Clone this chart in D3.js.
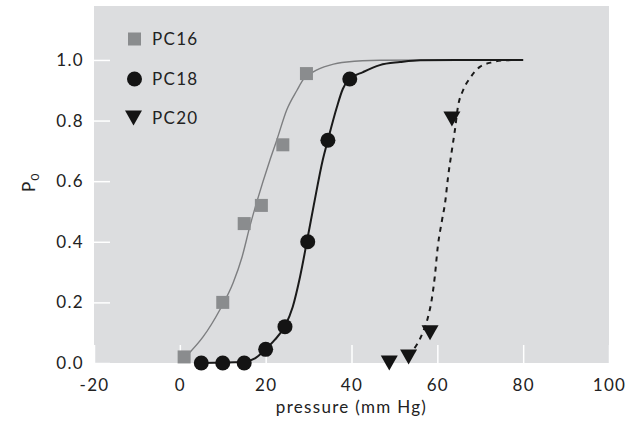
<!DOCTYPE html>
<html>
<head>
<meta charset="utf-8">
<script src="https://cdn.jsdelivr.net/npm/d3@7"></script>
<style>
  html, body { margin: 0; padding: 0; background: #ffffff; }
  svg { display: block; }
  text { font-family: Lato, "Open Sans", sans-serif; fill: #222; letter-spacing: 1.3px; }
</style>
</head>
<body>
<svg id="chart" width="636" height="424"></svg>
<script>
// ---- data ----
const xTicks = [-20, 0, 20, 40, 60, 80, 100];
const yTicks = [0.0, 0.2, 0.4, 0.6, 0.8, 1.0];

const pc16X = [1, 10, 15, 19, 24, 29.5];
const pc16Y = [0.02, 0.20, 0.46, 0.52, 0.72, 0.955];

const pc18X = [5, 10, 15, 20, 24.5, 29.8, 34.5, 39.6];
const pc18Y = [0.0, 0.0, 0.0, 0.045, 0.12, 0.40, 0.735, 0.937];

const pc20X = [48.8, 53.3, 58.3, 63.4];
const pc20Y = [0.0, 0.02, 0.10, 0.805];

// fitted curves
const fit16X = [2, 5.4, 9.3, 12.4, 14.5, 16.3, 17.9, 21.0, 22.6, 24.9, 27.3, 28.7, 31.0, 35.0, 38.9, 46.6, 60, 80];
const fit16Y = [0.03, 0.086, 0.175, 0.264, 0.35, 0.45, 0.53, 0.67, 0.736, 0.835, 0.90, 0.934, 0.96, 0.983, 0.993, 0.999, 1.0, 1.0];

const fit18X = [5, 14.7, 17.5, 19.8, 22.1, 24.5, 26.3, 28.0, 29.6, 31.2, 33.3, 34.5, 36.6, 38.0, 39.6, 42.7, 46.6, 51.3, 56, 80];
const fit18Y = [0.0, 0.003, 0.015, 0.043, 0.076, 0.122, 0.185, 0.284, 0.40, 0.52, 0.67, 0.736, 0.845, 0.905, 0.937, 0.96, 0.983, 0.993, 0.999, 1.0];

const fit20X = [53.1, 55.2, 56.6, 57.8, 58.7, 59.4, 60.1, 61.1, 61.8, 62.5, 63.4, 64.1, 64.8, 66.0, 67.6, 69.9, 73.0, 76.0, 80];
const fit20Y = [0.026, 0.06, 0.10, 0.15, 0.21, 0.284, 0.383, 0.472, 0.528, 0.614, 0.703, 0.769, 0.845, 0.90, 0.94, 0.977, 0.993, 0.999, 1.0];

const seriesNames = ["PC16", "PC18", "PC20"];

// ---- layout ----
const svg = d3.select("#chart");
const plotLeft = 94, plotRight = 609, plotTop = 6, plotBottom = 363;
const fs = 17;

const x = d3.scaleLinear().domain([-20, 100]).range([plotLeft, plotRight]);
const y = d3.scaleLinear().domain([0, 1.178]).range([plotBottom, plotTop]);

svg.append("rect")
  .attr("x", plotLeft).attr("y", plotTop)
  .attr("width", plotRight - plotLeft).attr("height", plotBottom - plotTop)
  .attr("fill", "#dcdddf");

// axes (ticks drawn inside, white)
const yAxis = d3.axisLeft(y).tickValues(yTicks).tickFormat(d3.format(".1f")).tickSize(-16).tickPadding(10);
const gy = svg.append("g").attr("transform", `translate(${plotLeft},0)`).call(yAxis);
gy.select(".domain").remove();
gy.selectAll(".tick line").attr("stroke", "#ffffff").attr("stroke-width", 1.5);
gy.selectAll(".tick text").attr("font-size", fs).attr("fill", "#222")
  .style("font-family", "Lato, sans-serif").style("letter-spacing", "1.3px");

const xAxis = d3.axisBottom(x).tickValues(xTicks).tickFormat(d => String(d)).tickSize(-18).tickPadding(16);
const gx = svg.append("g").attr("transform", `translate(0,${plotBottom})`).call(xAxis);
gx.select(".domain").remove();
gx.selectAll(".tick line").attr("stroke", "#ffffff").attr("stroke-width", 1.5);
gx.selectAll(".tick text").attr("font-size", fs).attr("fill", "#222")
  .style("font-family", "Lato, sans-serif").style("letter-spacing", "1.3px");

// axis labels
svg.append("text")
  .attr("x", (plotLeft + plotRight) / 2).attr("y", 413)
  .attr("text-anchor", "middle").attr("font-size", fs)
  .text("pressure (mm Hg)");

const yl = svg.append("text")
  .attr("transform", `translate(35,182) rotate(-90)`)
  .attr("text-anchor", "middle").attr("font-size", fs);
yl.append("tspan").text("P");
yl.append("tspan").attr("font-size", 12).attr("dy", 4).text("0");

// curves
const line = d3.line().x(d => x(d[0])).y(d => y(d[1])).curve(d3.curveMonotoneX);
const z = (a, b) => a.map((v, i) => [v, b[i]]);

svg.append("path").datum(z(fit16X, fit16Y)).attr("d", line)
  .attr("fill", "none").attr("stroke", "#7d7e80").attr("stroke-width", 1.4);
svg.append("path").datum(z(fit18X, fit18Y)).attr("d", line)
  .attr("fill", "none").attr("stroke", "#1a1a1a").attr("stroke-width", 2);
svg.append("path").datum(z(fit20X, fit20Y)).attr("d", line)
  .attr("fill", "none").attr("stroke", "#1a1a1a").attr("stroke-width", 2)
  .attr("stroke-dasharray", "5,5");

// markers
const sqSize = 13, circR = 7.5;
const triPath = (cx, cy, w, h) => `M${cx - w / 2},${cy - h / 2}L${cx + w / 2},${cy - h / 2}L${cx},${cy + h / 2}Z`;

svg.append("g").selectAll("rect").data(z(pc16X, pc16Y)).join("rect")
  .attr("x", d => x(d[0]) - sqSize / 2).attr("y", d => y(d[1]) - sqSize / 2)
  .attr("width", sqSize).attr("height", sqSize).attr("fill", "#8a8c8e");

svg.append("g").selectAll("circle").data(z(pc18X, pc18Y)).join("circle")
  .attr("cx", d => x(d[0])).attr("cy", d => y(d[1])).attr("r", circR).attr("fill", "#141414");

svg.append("g").selectAll("path").data(z(pc20X, pc20Y)).join("path")
  .attr("d", d => triPath(x(d[0]), y(d[1]), 17, 15)).attr("fill", "#141414");

// legend
const legX = 134.5, legY = [39, 79, 118];
svg.append("rect").attr("x", legX - sqSize / 2).attr("y", legY[0] - sqSize / 2)
  .attr("width", sqSize).attr("height", sqSize).attr("fill", "#8a8c8e");
svg.append("circle").attr("cx", legX).attr("cy", legY[1]).attr("r", circR).attr("fill", "#141414");
svg.append("path").attr("d", triPath(legX - 1, legY[2], 17, 15)).attr("fill", "#141414");

svg.append("g").selectAll("text").data(seriesNames).join("text")
  .attr("x", 152).attr("y", (d, i) => legY[i]).attr("dy", "0.35em")
  .attr("font-size", fs).text(d => d);
</script>
</body>
</html>
